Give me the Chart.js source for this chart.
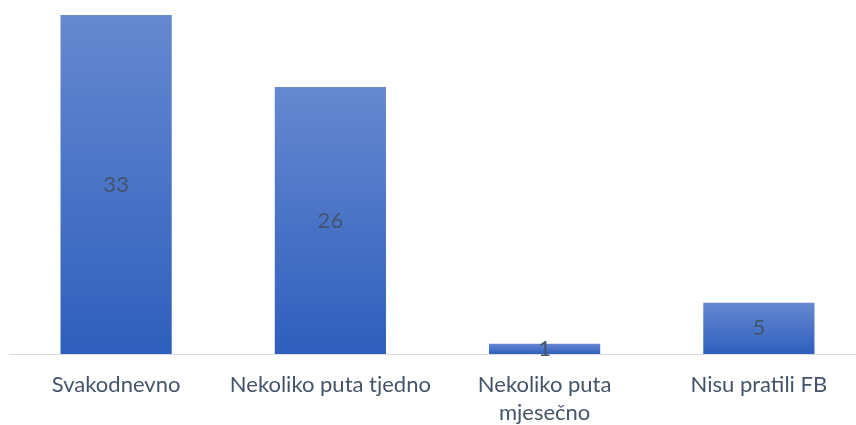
<!DOCTYPE html>
<html>
<head>
<meta charset="utf-8">
<script src="https://cdn.jsdelivr.net/npm/chart.js@4/dist/chart.umd.min.js"></script>
<style>
  html, body { margin: 0; padding: 0; background: #fff; overflow: hidden; }
  #wrap { width: 866px; height: 425px; }
  canvas { display: block; }
</style>
</head>
<body>
<div id="wrap"><canvas id="freqChart" width="866" height="425"></canvas></div>
<script>
// categories and counts
const categories = [
  "Svakodnevno",
  "Nekoliko puta tjedno",
  ["Nekoliko puta", "mjesečno"],
  "Nisu pratili FB",
];
const counts = [33, 26, 1, 5];

const TEXT_COLOR = "#44546a";
const FONT_FAMILY = "Lato, 'Noto Sans', sans-serif";

// each bar gets its own vertical gradient, light on top, darker at the base
function barGradient(ctx) {
  const chart = ctx.chart;
  const y = chart.scales.y;
  if (ctx.type !== "data" || !y) return "#4a74c9";
  const top = y.getPixelForValue(ctx.raw);
  const base = y.getPixelForValue(0);
  if (!isFinite(top) || !isFinite(base) || top === base) return "#4a74c9";
  const g = chart.ctx.createLinearGradient(0, top, 0, base);
  g.addColorStop(0, "#6688d0");
  g.addColorStop(1, "#2e5fbd");
  return g;
}

// value labels in the middle of each bar
const centerLabels = {
  id: "centerLabels",
  afterDatasetsDraw(chart) {
    const { ctx } = chart;
    const meta = chart.getDatasetMeta(0);
    ctx.save();
    ctx.font = "22px " + FONT_FAMILY;
    ctx.fillStyle = TEXT_COLOR;
    ctx.textAlign = "center";
    ctx.textBaseline = "middle";
    meta.data.forEach((bar, i) => {
      ctx.fillText(String(counts[i]), bar.x, (bar.y + bar.base) / 2);
    });
    ctx.restore();
  },
};

new Chart(document.getElementById("freqChart"), {
  type: "bar",
  data: {
    labels: categories,
    datasets: [
      {
        data: counts,
        backgroundColor: barGradient,
        borderWidth: 0,
        barPercentage: 0.519,
        categoryPercentage: 1,
      },
    ],
  },
  options: {
    responsive: false,
    animation: false,
    devicePixelRatio: 1,
    layout: { padding: { left: 9, right: 0, top: 15, bottom: 0 } },
    plugins: {
      legend: { display: false },
      tooltip: { enabled: false },
    },
    scales: {
      x: {
        grid: { display: false, drawTicks: false },
        border: { display: true, color: "#d9dde3", width: 1 },
        ticks: {
          color: TEXT_COLOR,
          font: { family: FONT_FAMILY, size: 22, lineHeight: "28px" },
          padding: 17,
          maxRotation: 0,
          autoSkip: false,
        },
        // keep the axis band fixed so the baseline sits where the original does
        afterFit: (scale) => { scale.height = 71; },
      },
      y: {
        display: false,
        min: 0,
        max: 33,
      },
    },
  },
  plugins: [centerLabels],
});
</script>
</body>
</html>
